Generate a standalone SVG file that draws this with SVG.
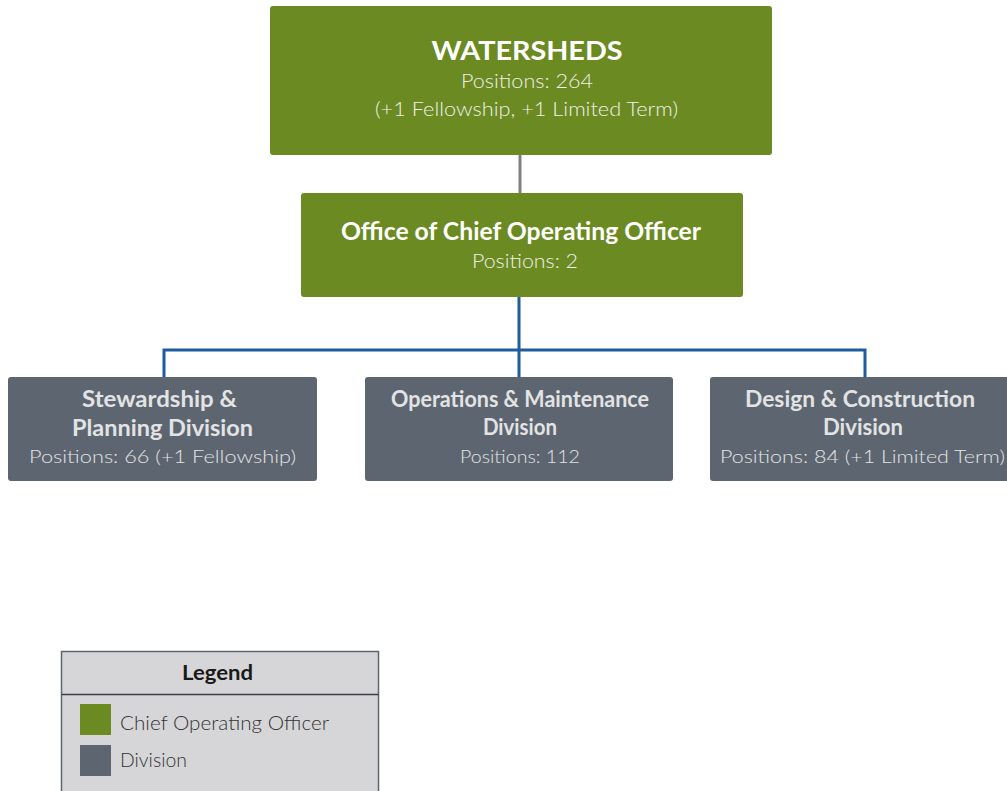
<svg xmlns="http://www.w3.org/2000/svg" width="1007" height="791" viewBox="0 0 1007 791">
<style>
.g{fill:#6b8a22}
.d{fill:#5d6670}
.t{font-family:Lato,"Liberation Sans",sans-serif;text-anchor:middle}
.b{font-weight:bold}
.lt{font-weight:300}
.w{fill:#ffffff}
.wl{fill:#f0f0ea}
.l{fill:#e2e3e5}
.k{fill:#1a1a1a}
.k2{fill:#333333}
</style>
<rect x="0" y="0" width="1007" height="791" fill="#ffffff"/>
<g id="connectors" fill="none">
<line x1="520" y1="155" x2="520" y2="193" stroke="#808080" stroke-width="3"/>
<path d="M519 297 V350 M164 377 V350 H865 V377 M519 350 V377" stroke="#1f5c9e" stroke-width="3"/>
</g>
<g id="watersheds">
<rect class="g" x="270" y="6" width="502" height="149" rx="3"/>
<text class="t b w" x="527" y="60" font-size="27" textLength="191" lengthAdjust="spacingAndGlyphs">WATERSHEDS</text>
<text class="t lt wl" x="527" y="88" font-size="19" textLength="132" lengthAdjust="spacingAndGlyphs">Positions: 264</text>
<text class="t lt wl" x="526.5" y="116" font-size="19" textLength="303" lengthAdjust="spacingAndGlyphs">(+1 Fellowship, +1 Limited Term)</text>
</g>
<g id="coo">
<rect class="g" x="301" y="193" width="442" height="104" rx="3"/>
<text class="t b w" x="521" y="240" font-size="24" textLength="360" lengthAdjust="spacingAndGlyphs">Office of Chief Operating Officer</text>
<text class="t lt wl" x="525" y="268" font-size="19" textLength="106" lengthAdjust="spacingAndGlyphs">Positions: 2</text>
</g>
<g id="stewardship">
<rect class="d" x="8" y="377" width="309" height="104" rx="3"/>
<text class="t b l" x="159.5" y="407" font-size="22" textLength="155" lengthAdjust="spacingAndGlyphs">Stewardship &amp;</text>
<text class="t b l" x="162.5" y="436" font-size="22" textLength="181" lengthAdjust="spacingAndGlyphs">Planning Division</text>
<text class="t lt l" x="162.5" y="463" font-size="18" textLength="267" lengthAdjust="spacingAndGlyphs">Positions: 66 (+1 Fellowship)</text>
</g>
<g id="operations">
<rect class="d" x="365" y="377" width="308" height="104" rx="3"/>
<text class="t b l" x="520" y="407" font-size="22" textLength="258" lengthAdjust="spacingAndGlyphs">Operations &amp; Maintenance</text>
<text class="t b l" x="520" y="435" font-size="22" textLength="74" lengthAdjust="spacingAndGlyphs">Division</text>
<text class="t lt l" x="520" y="463" font-size="18" textLength="120" lengthAdjust="spacingAndGlyphs">Positions: 112</text>
</g>
<g id="design">
<rect class="d" x="710" y="377" width="306" height="104" rx="3"/>
<text class="t b l" x="860" y="407" font-size="22" textLength="230" lengthAdjust="spacingAndGlyphs">Design &amp; Construction</text>
<text class="t b l" x="863" y="435" font-size="22" textLength="80" lengthAdjust="spacingAndGlyphs">Division</text>
<text class="t lt l" x="862.5" y="463" font-size="18" textLength="285" lengthAdjust="spacingAndGlyphs">Positions: 84 (+1 Limited Term)</text>
</g>
<g id="legend">
<rect x="61.5" y="651.5" width="317" height="145" fill="#d6d6d8" stroke="#5d6670" stroke-width="1.5"/>
<line x1="61.5" y1="694.5" x2="378.5" y2="694.5" stroke="#3a3f45" stroke-width="1.5"/>
<text class="t b k" x="217.5" y="680" font-size="20" textLength="71" lengthAdjust="spacingAndGlyphs">Legend</text>
<rect class="g" x="80" y="704" width="31" height="31"/>
<rect class="d" x="80" y="745" width="31" height="31"/>
<text class="k2 lt" x="120" y="730" font-size="20" font-family="Lato,'Liberation Sans',sans-serif" textLength="209" lengthAdjust="spacingAndGlyphs">Chief Operating Officer</text>
<text class="k2 lt" x="120" y="767" font-size="20" font-family="Lato,'Liberation Sans',sans-serif" textLength="67" lengthAdjust="spacingAndGlyphs">Division</text>
</g>
</svg>
